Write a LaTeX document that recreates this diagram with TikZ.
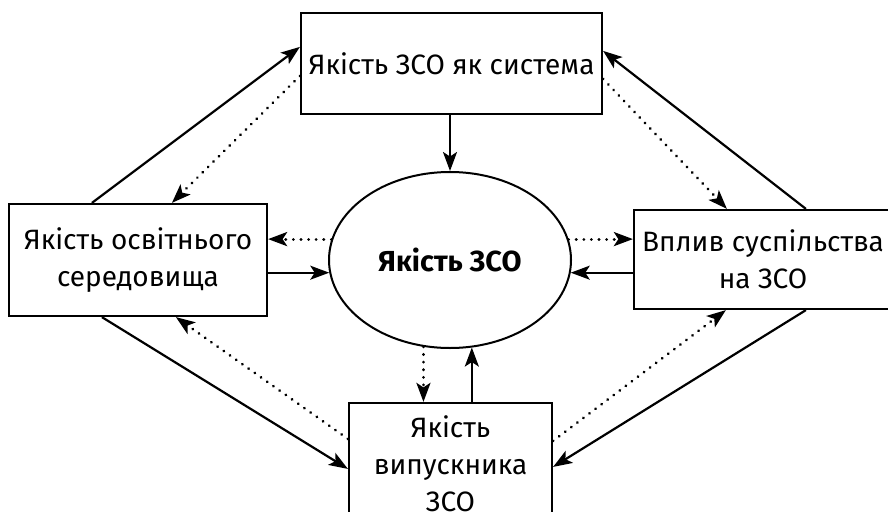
\documentclass[tikz,border=0pt]{standalone}
\usepackage{fontspec}
\setmainfont{Fira Sans}
\usepackage{tikz}
\usetikzlibrary{arrows.meta,shapes.geometric,calc}

\begin{document}
\begin{tikzpicture}[
    x=1pt,y=-1pt,
    box/.style={draw,line width=2.2pt,align=center,inner sep=0pt,font=\fontsize{28}{37}\selectfont},
    oval/.style={draw,ellipse,line width=2pt,inner sep=0pt,minimum width=242pt,minimum height=176pt,font=\fontsize{29}{37}\selectfont\bfseries},
    arr/.style={-{Stealth[length=19pt,width=14pt,inset=4.5pt]},line width=2.2pt},
    dots/.style={arr,dash pattern=on 0.1pt off 7.5pt,line cap=round,line width=3pt}
  ]
    \useasboundingbox (0,0) rectangle (888,511);
    \node[oval] (zso) at (450,260) {Якість ЗСО};
    \node[box,minimum width=301pt,minimum height=101pt] (top) at (451.5,63.5) {Якість ЗСО як система};
    \node[box,minimum width=258pt,minimum height=112pt] (env) at (138,260) {Якість освітнього\\середовища};
    \node[box,minimum width=258pt,minimum height=99pt] (soc) at (763,259.5) {Вплив суспільства\\на ЗСО};
    \node[box,minimum width=203pt,minimum height=122pt] (grad) at (450.5,464) {Якість\\випускника\\ЗСО};
    % centre
    \draw[arr] (zso.north |- top.south) -- (zso.north);
    \draw[dots] (zso.170) -- (zso.170 -| env.east);
    \draw[arr] (env.east |- zso.186) -- (zso.186);
    \draw[dots] (zso.10) -- (zso.10 -| soc.west);
    \draw[arr] (soc.west |- zso.354) -- (zso.354);
    \draw[dots] (zso.253) -- (zso.253 |- grad.north);
    \draw[arr] (grad.north -| zso.284) -- (zso.284);
    % outer ring
    \draw[arr] ([xshift=84pt]env.north west) -- ([yshift=-35pt]top.north west);
    \draw[dots] ([yshift=-64pt]top.north west) -- ([xshift=164pt]env.north west);
    \draw[arr] ([xshift=173pt]soc.north west) -- ([yshift=-39pt]top.north east);
    \draw[dots] ([yshift=-67pt]top.north east) -- ([xshift=94pt]soc.north west);
    \draw[arr] ([xshift=94pt]env.south west) -- ([yshift=-67pt]grad.north west);
    \draw[dots] ([yshift=-37pt]grad.north west) -- ([xshift=168pt]env.south west);
    \draw[arr] ([xshift=173pt]soc.south west) -- ([yshift=-65pt]grad.north east);
    \draw[dots] ([yshift=-39pt]grad.north east) -- ([xshift=93pt]soc.south west);
  \end{tikzpicture}
\end{document}
